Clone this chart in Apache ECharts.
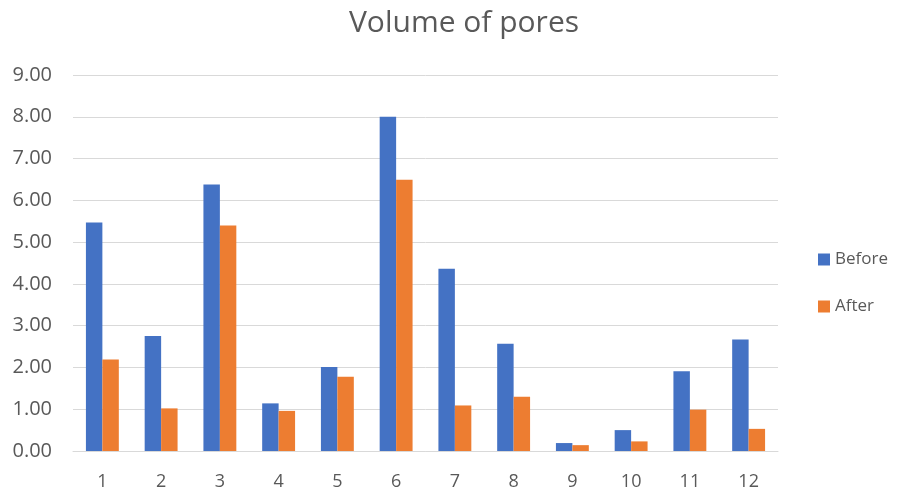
<!DOCTYPE html>
<html><head><meta charset="utf-8">
<script src="https://cdn.jsdelivr.net/npm/echarts@6/dist/echarts.min.js"></script>
<style>html,body{margin:0;padding:0;background:#fff}#c{width:898px;height:494px}</style>
</head><body><div id="c"></div>
<script>
const categories = ['1','2','3','4','5','6','7','8','9','10','11','12'];
const before = [5.47, 2.75, 6.38, 1.14, 2.01, 8.00, 4.36, 2.57, 0.19, 0.50, 1.91, 2.67];
const after = [2.19, 1.02, 5.40, 0.96, 1.78, 6.49, 1.09, 1.30, 0.14, 0.23, 0.99, 0.53];
const titleText = 'Volume of pores';
const seriesNames = ['Before', 'After'];

const font = '"Open Sans", "Noto Sans", sans-serif';
const chart = echarts.init(document.getElementById('c'));
chart.setOption({
  animation: false,
  title: { text: titleText, left: 459, top: 3, textAlign: 'center',
    textStyle: { fontFamily: font, fontSize: 30, fontWeight: 'normal', color: '#595959' } },
  legend: { orient: 'vertical', left: 813, top: 246, itemWidth: 12, itemHeight: 12, itemGap: 30,
    icon: 'rect', textStyle: { fontFamily: font, fontSize: 17, color: '#595959' },
    data: seriesNames },
  grid: { left: 73, right: 120, top: 75, bottom: 43, containLabel: false },
  xAxis: { type: 'category', data: categories,
    axisLine: { lineStyle: { color: '#d9d9d9', width: 1 } }, axisTick: { show: false },
    axisLabel: { fontFamily: font, fontSize: 18, color: '#595959', margin: 22 } },
  yAxis: { type: 'value', min: 0, max: 9, interval: 1,
    axisLine: { show: false }, axisTick: { show: false },
    splitLine: { lineStyle: { color: '#d9d9d9', width: 1 } },
    axisLabel: { fontFamily: font, fontSize: 20, color: '#595959', margin: 21,
      formatter: v => v.toFixed(2) } },
  series: [
    { name: seriesNames[0], type: 'bar', data: before, barGap: '0%', barCategoryGap: '44%',
      itemStyle: { color: '#4472C4' } },
    { name: seriesNames[1], type: 'bar', data: after, barGap: '0%', barCategoryGap: '44%',
      itemStyle: { color: '#ED7D31' } }
  ]
});
</script></body></html>
